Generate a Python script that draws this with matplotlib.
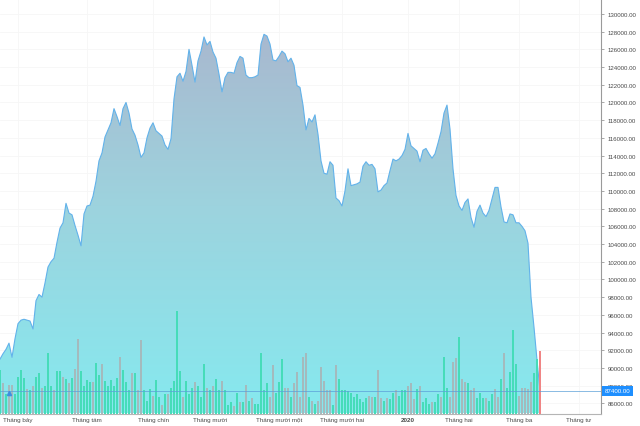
import numpy as np
import matplotlib
matplotlib.use("Agg")
import matplotlib.pyplot as plt
import matplotlib.transforms as mtransforms
from matplotlib.patches import PathPatch
from matplotlib.colors import LinearSegmentedColormap
from matplotlib.ticker import FormatStrFormatter

plt.rcParams['font.family'] = ['Liberation Sans', 'DejaVu Sans']

# gia dong cua theo phien
price = [91000, 91600, 92100, 92800, 91200, 93300, 95000, 95400, 95500, 95400,
         95300, 94400, 97600, 98300, 98000, 99600, 101400, 102000, 102400, 104200,
         105800, 106400, 108600, 107500, 107300, 106100, 105000, 103800, 107400, 108300,
         108400, 109400, 111100, 113400, 114300, 116100, 116900, 117700, 119300, 118400,
         117400, 119300, 120000, 118800, 117000, 116300, 115200, 113800, 114300, 116000,
         117100, 117700, 116800, 116500, 116200, 115200, 114700, 115900, 120400, 122900,
         123300, 122400, 123500, 126000, 124200, 122300, 124700, 125800, 127400, 126500,
         126900, 125700, 125000, 123200, 121200, 122800, 123400, 123400, 123300, 124500,
         125200, 125000, 123100, 122800, 122800, 122900, 123100, 126600, 127700, 127500,
         126600, 124800, 124700, 125200, 125800, 125500, 124600, 125000, 124200, 121900,
         121700, 119700, 116900, 118200, 117800, 118600, 116400, 113400, 112000, 111900,
         113300, 112900, 109200, 108900, 108300, 110000, 112500, 110600, 110700, 110800,
         111000, 112800, 113300, 112900, 113000, 112500, 109900, 110100, 110600, 110900,
         112300, 113600, 113400, 113600, 114000, 114700, 116500, 115100, 114800, 114500,
         113300, 114600, 114800, 114200, 113700, 114200, 115400, 116700, 118800, 119700,
         117000, 112500, 109500, 108300, 107800, 108700, 109100, 107000, 105900, 107700,
         108400, 107500, 107100, 107800, 109100, 110400, 110400, 108200, 106500, 106400,
         107400, 107300, 106400, 106400, 106000, 105500, 104100, 98000, 94600, 90900,
         87400]

# khoi luong (chục nghìn cp)
volume = [44, 30, 20, 29, 29, 20, 37, 44, 36, 25, 24, 27, 37, 41, 26, 27, 61, 27, 23, 43,
          43, 37, 35, 30, 36, 45, 75, 43, 27, 34, 32, 32, 51, 38, 50, 33, 27, 34, 28, 36,
          57, 44, 31, 23, 41, 41, 23, 74, 23, 13, 25, 18, 34, 17, 9, 20, 20, 26, 33, 102,
          43, 17, 33, 20, 26, 31, 28, 17, 50, 26, 23, 27, 35, 23, 33, 24, 9, 11, 8, 21,
          12, 12, 29, 13, 15, 10, 10, 61, 23, 30, 17, 49, 21, 31, 55, 26, 26, 17, 30, 42,
          17, 57, 61, 17, 13, 10, 13, 47, 33, 24, 23, 9, 49, 35, 24, 23, 22, 21, 17, 19,
          14, 12, 15, 18, 17, 17, 44, 15, 13, 16, 14, 21, 23, 18, 24, 23, 27, 30, 14, 25,
          28, 11, 15, 10, 12, 11, 19, 17, 57, 26, 17, 52, 56, 77, 35, 31, 30, 23, 26, 15,
          21, 15, 15, 13, 20, 25, 17, 35, 61, 26, 42, 84, 50, 18, 26, 26, 25, 32, 41, 55,
          62]
# 1 = phien tang, 0 = phien giam
vol_up = [1, 0, 1, 0, 0, 1, 1, 1, 1, 0, 1, 0, 1, 1, 0, 1, 1, 1, 0, 1,
          1, 0, 1, 0, 1, 0, 0, 1, 1, 1, 1, 0, 1, 1, 0, 1, 1, 1, 1, 1,
          0, 1, 1, 1, 0, 1, 0, 0, 1, 1, 1, 0, 1, 1, 0, 1, 0, 1, 1, 1,
          1, 0, 1, 1, 1, 0, 1, 1, 1, 0, 1, 0, 1, 1, 0, 1, 1, 1, 0, 1,
          0, 1, 0, 1, 0, 1, 1, 1, 1, 1, 0, 0, 1, 1, 1, 0, 0, 1, 0, 0,
          0, 0, 0, 1, 0, 1, 0, 0, 0, 0, 0, 1, 0, 1, 1, 1, 1, 1, 1, 1,
          1, 1, 1, 0, 0, 1, 0, 0, 1, 0, 1, 1, 0, 1, 1, 1, 0, 0, 0, 1,
          0, 1, 1, 1, 0, 1, 1, 0, 1, 1, 0, 0, 0, 1, 0, 0, 1, 0, 0, 1,
          1, 1, 0, 1, 1, 0, 0, 1, 0, 1, 1, 1, 1, 0, 0, 0, 0, 0, 1, 1,
          0]

month_pos = [6, 29, 51, 70, 93, 114, 136, 153, 173, 193]
month_labels = ['Tháng bảy', 'Tháng tám', 'Tháng chín', 'Tháng mười', 'Tháng mười một',
                'Tháng mười hai', '2020', 'Tháng hai', 'Tháng ba', 'Tháng tư']
last_price = 87400

fig = plt.figure(figsize=(6.4, 4.27), dpi=100)
ax = fig.add_axes([0, 12.5 / 427, 601 / 640, 414.5 / 427])
ymin, ymax = 84850, 131690
x = np.arange(len(price))

# vung gradient duoi duong gia
poly = ax.fill_between(x, price, ymin, facecolor='none', edgecolor='none')
patch = PathPatch(poly.get_paths()[0], transform=ax.transData, facecolor='none', edgecolor='none')
ax.add_patch(patch)
cmap = LinearSegmentedColormap.from_list('area', ['#86e9ef', '#9dd3de', '#abb3cc'])
grad = np.linspace(0, 1, 256).reshape(-1, 1)
im = ax.imshow(grad, cmap=cmap, extent=[0, len(price), ymin, ymax], origin='lower',
               aspect='auto', zorder=1)
im.set_clip_path(patch)
ax.plot(x, price, color='#62b2ea', lw=0.8, zorder=2)

# cot khoi luong
k = (ymax - ymin) / 414.5
colors = ['#46dcb9' if u else '#a4babd' for u in vol_up]
colors[-1] = '#f08585'
ax.bar(x, np.array(volume) * k, bottom=ymin, width=0.88, color=colors, linewidth=0, zorder=3)

ax.axhline(last_price, color='#5b9fd8', lw=0.5, zorder=4)
ax.plot(3, 87200, marker='^', ms=3, color='#3f8fe0', zorder=5)

ax.set_xlim(0, 601 / 3)
ax.set_ylim(ymin, ymax)

ax.yaxis.tick_right()
ax.set_yticks(np.arange(86000, 130001, 2000))
ax.yaxis.set_major_formatter(FormatStrFormatter('%.2f'))
ax.tick_params(axis='y', length=2.5, width=0.6, color='#9a9a9a', pad=2,
               labelsize=4.4, labelcolor='#4a4a4a')
ax.set_xticks(month_pos, month_labels)
ax.tick_params(axis='x', length=0, pad=2.5, labelsize=4.5, labelcolor='#4a4a4a')
ax.get_xticklabels()[6].set_fontweight('bold')

for s in ['left', 'top']:
    ax.spines[s].set_visible(False)
ax.spines['right'].set_color('#9a9a9a')
ax.spines['right'].set_linewidth(0.8)
ax.spines['bottom'].set_color('#b5b5b5')
ax.spines['bottom'].set_linewidth(0.8)

ax.grid(True, color='#f6f6f6', lw=0.6)
ax.set_axisbelow(True)

trans = mtransforms.blended_transform_factory(ax.transAxes, ax.transData)
ax.text(1.006, last_price, '%.2f' % last_price, transform=trans, va='center', ha='left',
        fontsize=4.4, color='white', zorder=10, clip_on=False,
        bbox=dict(boxstyle='square,pad=0.4', fc='#1e8fff', ec='none'))

plt.savefig('out.png', dpi=100)
